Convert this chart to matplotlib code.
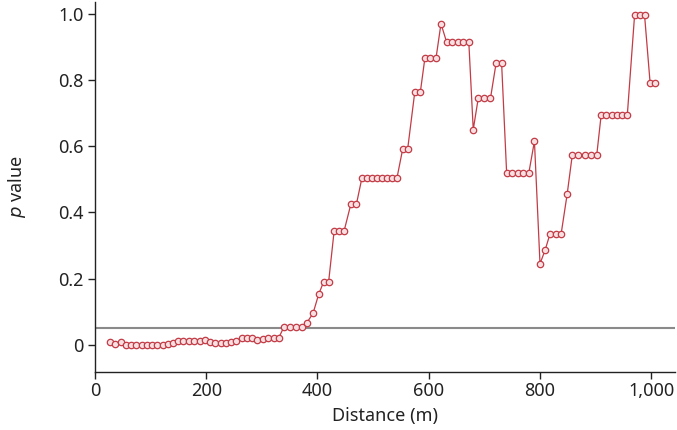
import matplotlib
matplotlib.use('Agg')
import matplotlib.pyplot as plt
from matplotlib.ticker import FuncFormatter

plt.rcParams['font.family'] = ['Noto Sans', 'DejaVu Sans']

# Distance (m) and p value for each sampled point
distance = [27, 36, 46, 55, 65, 74, 84, 93, 103, 112, 122, 131, 140, 150, 159,
            169, 178, 188, 197, 207, 216, 226, 235, 245, 254, 264, 273, 283, 292,
            302, 311, 321, 330, 340, 350, 361, 372, 381, 392, 402, 411, 420, 430,
            439, 448, 460, 470, 480, 489, 498, 507, 516, 525, 534, 543, 553, 562,
            575, 585, 593, 603, 613, 622, 632, 642, 652, 662, 672, 680, 689, 700,
            711, 721, 731, 740, 750, 760, 770, 780, 790, 800, 809, 818, 828, 838,
            849, 858, 869, 880, 891, 902, 910, 919, 929, 938, 948, 957, 970, 979,
            988, 998, 1007]
p_value = [0.009, 0.003, 0.009, 0.0, 0.0, 0.0, 0.0, 0.0, 0.0, 0.0, 0.0, 0.002,
           0.005, 0.01, 0.012, 0.012, 0.012, 0.012, 0.016, 0.008, 0.006, 0.006,
           0.006, 0.007, 0.012, 0.02, 0.02, 0.02, 0.013, 0.018, 0.02, 0.02, 0.02,
           0.055, 0.055, 0.055, 0.055, 0.067, 0.095, 0.152, 0.19, 0.19, 0.345,
           0.345, 0.345, 0.425, 0.425, 0.505, 0.505, 0.505, 0.505, 0.505, 0.505,
           0.505, 0.505, 0.59, 0.59, 0.765, 0.765, 0.865, 0.865, 0.865, 0.97,
           0.915, 0.915, 0.915, 0.915, 0.915, 0.65, 0.745, 0.745, 0.745, 0.85,
           0.85, 0.52, 0.52, 0.52, 0.52, 0.52, 0.615, 0.245, 0.285, 0.335, 0.335,
           0.335, 0.457, 0.573, 0.573, 0.573, 0.573, 0.573, 0.695, 0.695, 0.695,
           0.695, 0.695, 0.695, 0.995, 0.995, 0.995, 0.79, 0.79]

threshold = 0.05
x_ticks = [0, 200, 400, 600, 800, 1000]
y_ticks = [0, 0.2, 0.4, 0.6, 0.8, 1.0]
y_tick_labels = ['0', '0.2', '0.4', '0.6', '0.8', '1.0']

fig = plt.figure(figsize=(6.77, 4.30), dpi=100)
ax = fig.add_axes([0.1403, 0.135, 0.857, 0.86])

ax.axhline(threshold, color='#8a8a8a', linewidth=1.5, zorder=1)
ax.plot(distance, p_value, color='#c23b45', linewidth=0.9,
        marker='o', markersize=4.6, markerfacecolor='#f7e0e2',
        markeredgecolor='#c23b45', markeredgewidth=0.9, zorder=2)

ax.set_xlim(0, 1043)
ax.set_ylim(-0.082, 1.035)
ax.set_xticks(x_ticks)
ax.xaxis.set_major_formatter(FuncFormatter(lambda v, _: f'{int(v):,}'))
ax.set_yticks(y_ticks)
ax.set_yticklabels(y_tick_labels)

for s in ['top', 'right']:
    ax.spines[s].set_visible(False)
for s in ['left', 'bottom']:
    ax.spines[s].set_color('#222222')
    ax.spines[s].set_linewidth(1.0)

ax.tick_params(axis='both', labelsize=13, colors='#222222', length=5, width=1.0)
ax.tick_params(axis='x', pad=2)
ax.tick_params(axis='y', pad=3)
ax.set_xlabel('Distance (m)', fontsize=13, color='#222222', labelpad=5)
ax.set_ylabel('$\\mathit{p}$ value', fontsize=13, color='#222222', labelpad=22)

fig.savefig('out.png', dpi=100)
